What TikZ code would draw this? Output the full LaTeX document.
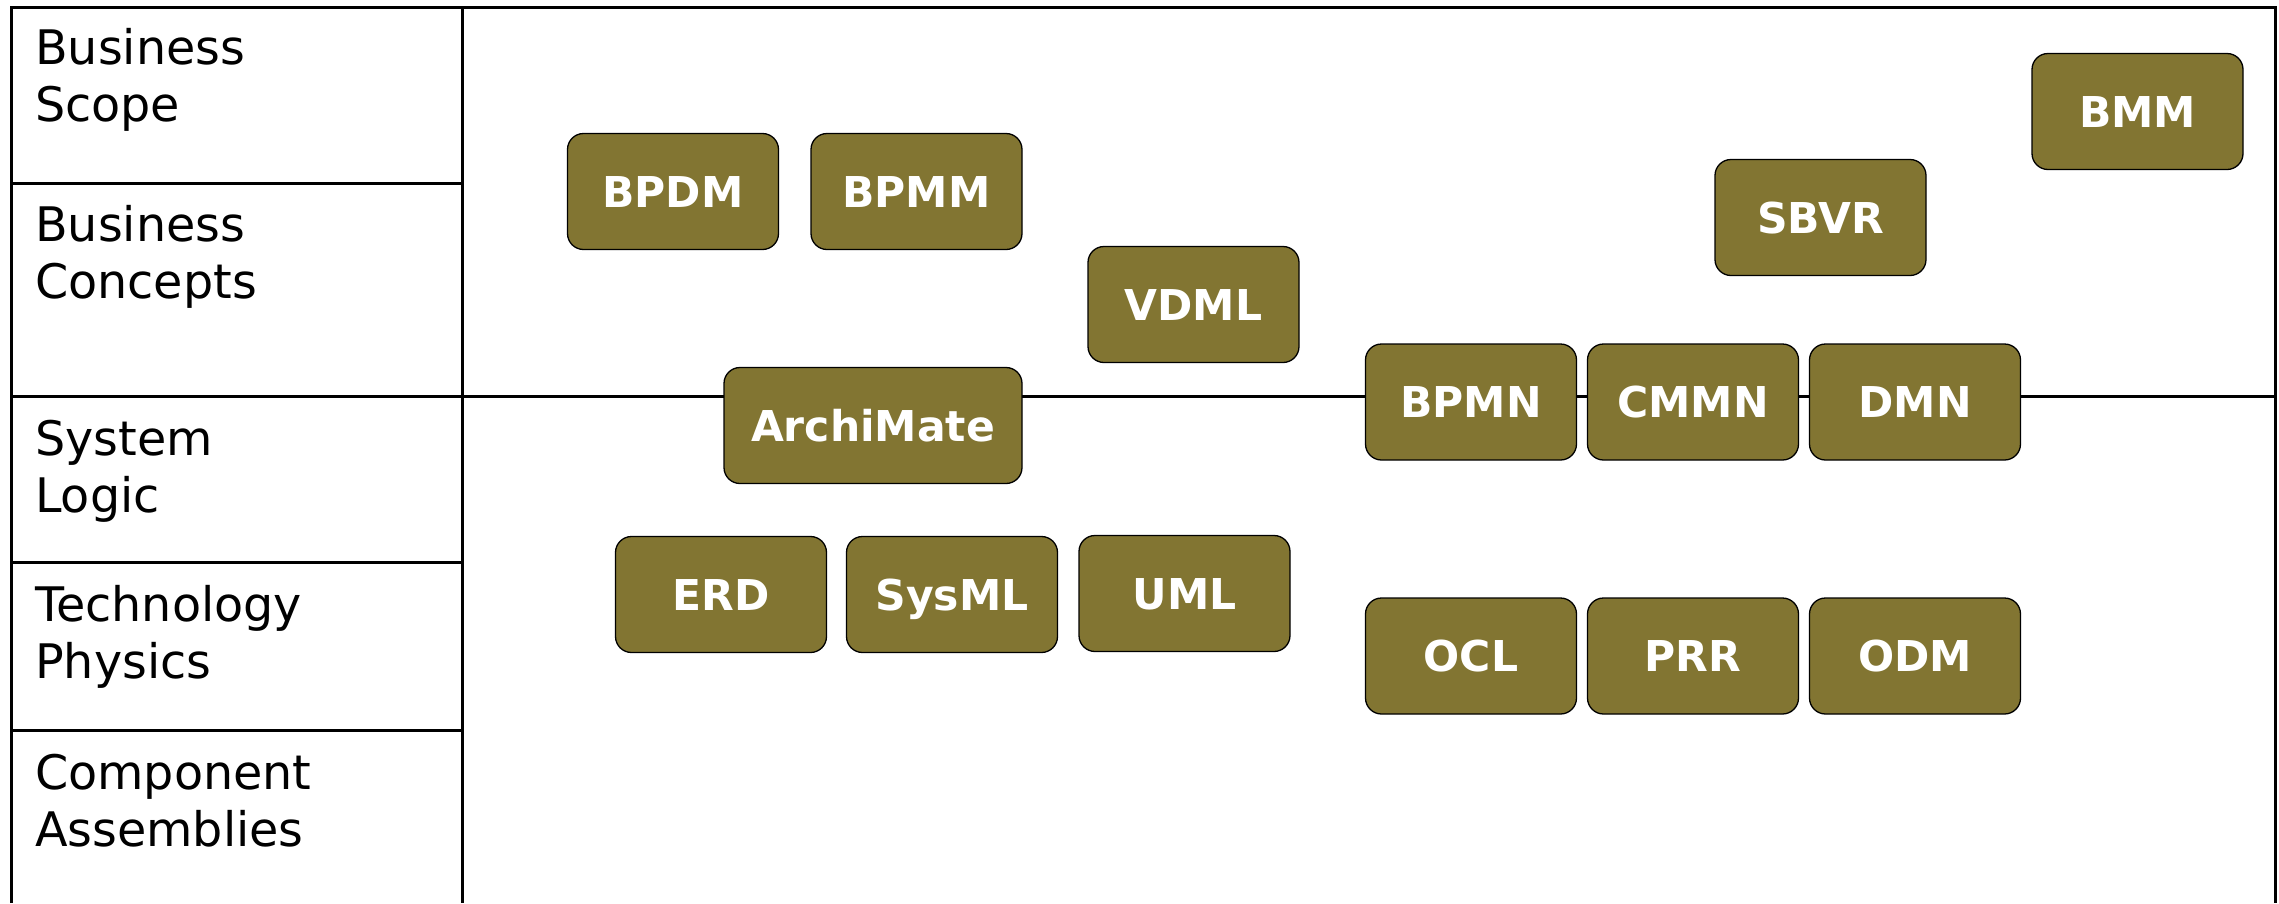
\documentclass[tikz,border=0pt]{standalone}
\usepackage{fontspec}
\setmainfont{DejaVu Sans}
\definecolor{olive}{RGB}{130,117,50}
\begin{document}
\begin{tikzpicture}[x=1pt,y=-1pt,
  frame/.style={line width=3pt,black},
  lbl/.style={anchor=base west,inner sep=0pt,align=left,font=\fontsize{47.6}{57}\selectfont},
  std/.style={draw=black,line width=1.3pt,fill=olive,rounded corners=16pt,
    minimum width=211pt,minimum height=116pt,inner sep=0pt,text height=31pt,text depth=0pt,
    text=white,font=\fontsize{42.5}{50}\selectfont\bfseries}]
\useasboundingbox (0,0) rectangle (2279,903);
\fill[white] (0,0) rectangle (2279,903);
% frame
\draw[frame] (11,903) -- (11,7) -- (2275,7) -- (2275,903);
\draw[frame] (462,7) -- (462,903);
\draw[frame] (11,183) -- (462,183);
\draw[frame] (11,396) -- (2275,396);
\draw[frame] (11,562) -- (462,562);
\draw[frame] (11,730) -- (462,730);
% row labels (anchor on the last line's baseline)
\node[lbl] (l1) at (35,121) {Business\\Scope};
\node[lbl] (l2) at (35,298) {Business\\Concepts};
\node[lbl] (l3) at (35,512) {System\\Logic};
\node[lbl] (l4) at (35,678) {Technology\\Physics};
\node[lbl] (l5) at (35,846) {Component\\Assemblies};
% standards
\node[std] (bpdm) at (673,191.5) {BPDM};
\node[std] (bpmm) at (916.5,191.5) {BPMM};
\node[std] (vdml) at (1193.5,304.5) {VDML};
\node[std,minimum width=298pt] (archimate) at (873,425.5) {ArchiMate};
\node[std] (bpmn) at (1471,402) {BPMN};
\node[std] (cmmn) at (1693,402) {CMMN};
\node[std] (dmn) at (1915,402) {DMN};
\node[std] (sbvr) at (1820.5,217.5) {SBVR};
\node[std] (bmm) at (2137.5,111.5) {BMM};
\node[std] (erd) at (721,594.5) {ERD};
\node[std] (sysml) at (952,594.5) {SysML};
\node[std] (uml) at (1184.5,593.5) {UML};
\node[std] (ocl) at (1471,656) {OCL};
\node[std] (prr) at (1693,656) {PRR};
\node[std] (odm) at (1915,656) {ODM};
\end{tikzpicture}
\end{document}
